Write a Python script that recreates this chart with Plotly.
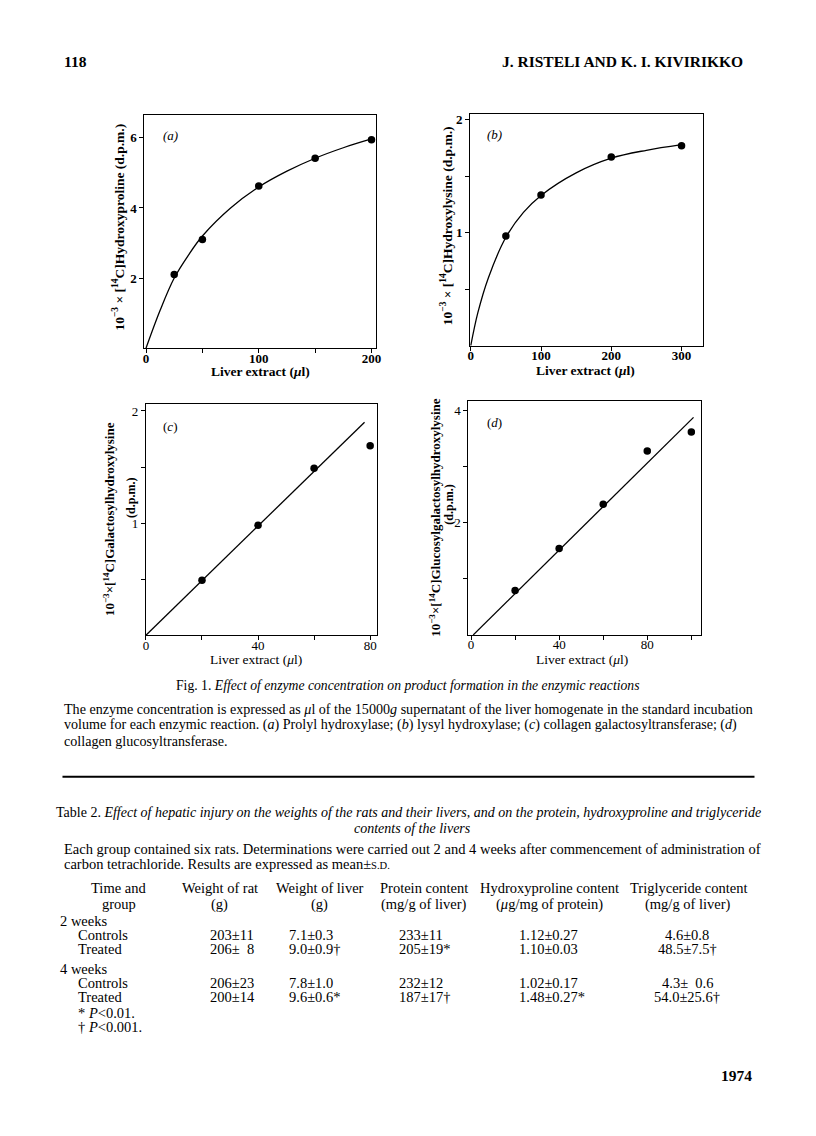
import plotly.graph_objects as go

# ---------------- data ----------------
# panel (a) prolyl hydroxylase
a_pts_x = [25, 50, 100, 150, 200]
a_pts_y = [2.10, 3.10, 4.63, 5.42, 5.95]
a_curve_x = [0, 12.5, 25, 37.5, 50, 75, 100, 125, 150, 175, 200]
a_curve_y = [0, 1.08, 2.0, 2.65, 3.2, 4.0, 4.6, 5.05, 5.42, 5.72, 5.97]
# panel (b) lysyl hydroxylase
b_pts_x = [50, 100, 200, 300]
b_pts_y = [0.97, 1.335, 1.67, 1.77]
b_curve_x = [0, 10, 25, 50, 75, 100, 150, 200, 250, 300]
b_curve_y = [0, 0.29, 0.6, 0.96, 1.18, 1.33, 1.53, 1.66, 1.73, 1.78]
# panel (c) collagen galactosyltransferase
c_pts_x = [20, 40, 60, 80]
c_pts_y = [0.49, 0.98, 1.49, 1.69]
c_line_x = [0, 78]
c_line_y = [0, 1.9]
# panel (d) collagen glucosyltransferase
d_pts_x = [20, 40, 60, 80, 100]
d_pts_y = [0.79, 1.54, 2.33, 3.28, 3.62]
d_line_x = [1, 101]
d_line_y = [0, 3.88]

# table 2
header_line1 = ["Time and", "Weight of rat", "Weight of liver", "Protein content",
                "Hydroxyproline content", "Triglyceride content"]
header_line2 = ["group", "(g)", "(g)", "(mg/g of liver)", "(<i>μ</i>g/mg of protein)",
                "(mg/g of liver)"]
time_groups = ["2 weeks", "4 weeks"]
row_labels = ["Controls", "Treated", "Controls", "Treated"]
weight_rat = ["203±11", "206±\u00a0\u00a08", "206±23", "200±14"]
weight_liver = ["7.1±0.3", "9.0±0.9†", "7.8±1.0", "9.6±0.6*"]
protein = ["233±11", "205±19*", "232±12", "187±17†"]
hydroxyproline = ["1.12±0.27", "1.10±0.03", "1.02±0.17", "1.48±0.27*"]
triglyceride = ["4.6±0.8", "48.5±7.5†", "4.3±\u00a0\u00a00.6", "54.0±25.6†"]
footnotes = ["* <i>P</i>&lt;0.01.", "† <i>P</i>&lt;0.001."]

# ---------------- layout helpers ----------------
# the page body has an 8 px margin, so the figure is 800x1120 and page coords are offset by 8
OFF = 8
W, H = 800, 1120
FONT = "Liberation Serif"


def px(x):
    return (x - OFF) / W


def py(y):
    return 1 - (y - OFF) / H


def dom_x(l, r):
    return [px(l), px(r)]


def dom_y(t, b):
    return [py(b), py(t)]


def axis(domain, rng, tickvals, ticktext, minorvals, anchor, is_x, size=13):
    d = dict(domain=domain, range=rng, tickmode="array", tickvals=tickvals,
             ticktext=ticktext, ticks="outside", ticklen=4, tickwidth=1,
             tickcolor="black", showline=True, linecolor="black", linewidth=1,
             mirror=True, showgrid=False, zeroline=False, anchor=anchor,
             tickfont=dict(family=FONT, size=size, color="black"),
             minor=dict(tickmode="array", tickvals=minorvals, ticks="outside",
                        ticklen=4, tickwidth=1, tickcolor="black", showgrid=False))
    if is_x:
        d["ticklabelstandoff"] = -6
    return d


annotations = []


def txt(x, y, text, size=13, xanchor="left", yanchor="middle", angle=0):
    annotations.append(dict(x=px(x), y=py(y), xref="paper", yref="paper", text=text,
                            showarrow=False, xanchor=xanchor, yanchor=yanchor,
                            textangle=angle,
                            font=dict(family=FONT, size=size, color="black")))


fig = go.Figure()

mk = dict(color="black", size=7.5)
ln = dict(color="black", width=1.3)

fig.add_trace(go.Scatter(x=a_curve_x, y=a_curve_y, mode="lines", line=ln, line_shape="spline",
                         xaxis="x", yaxis="y"))
fig.add_trace(go.Scatter(x=a_pts_x, y=a_pts_y, mode="markers", marker=mk, xaxis="x", yaxis="y"))
fig.add_trace(go.Scatter(x=b_curve_x, y=b_curve_y, mode="lines", line=ln, line_shape="spline",
                         xaxis="x2", yaxis="y2"))
fig.add_trace(go.Scatter(x=b_pts_x, y=b_pts_y, mode="markers", marker=mk, xaxis="x2", yaxis="y2"))
fig.add_trace(go.Scatter(x=c_line_x, y=c_line_y, mode="lines", line=ln, xaxis="x3", yaxis="y3"))
fig.add_trace(go.Scatter(x=c_pts_x, y=c_pts_y, mode="markers", marker=mk, xaxis="x3", yaxis="y3"))
fig.add_trace(go.Scatter(x=d_line_x, y=d_line_y, mode="lines", line=ln, xaxis="x4", yaxis="y4"))
fig.add_trace(go.Scatter(x=d_pts_x, y=d_pts_y, mode="markers", marker=mk, xaxis="x4", yaxis="y4"))

layout = dict(
    width=W, height=H, margin=dict(l=0, r=0, t=0, b=0),
    paper_bgcolor="white", plot_bgcolor="white", showlegend=False,
    xaxis=axis(dom_x(142.7, 376.7), [-1.5, 204], [0, 100, 200],
               ["<b>0</b>", "<b>100</b>", "<b>200</b>"], [50, 150], "y", True),
    yaxis=axis(dom_y(113, 346.7), [0, 6.66], [2, 4, 6],
               ["<b>2</b>", "<b>4</b>", "<b>6</b>"], [], "x", False),
    xaxis2=axis(dom_x(471.7, 707.3), [-1, 331], [0, 100, 200, 300],
                ["<b>0</b>", "<b>100</b>", "<b>200</b>", "<b>300</b>"], [], "y2", True),
    yaxis2=axis(dom_y(112.3, 344.3), [0, 2.05], [1, 2],
                ["<b>1</b>", "<b>2</b>"], [0.5, 1.5], "x2", False),
    xaxis3=axis(dom_x(144.3, 377.3), [0, 82.3], [0, 40, 80],
                ["0", "40", "80"], [20, 60], "y3", True),
    yaxis3=axis(dom_y(402.3, 634.3), [0, 2.066], [1, 2], ["1", "2"], [0.5, 1.5], "x3", False),
    xaxis4=axis(dom_x(470, 705), [-1.2, 104.4], [0, 40, 80],
                ["0", "40", "80"], [20, 60, 100], "y4", True),
    yaxis4=axis(dom_y(400, 634), [0, 4.167], [2, 4], ["2", "4"], [1, 3], "x4", False),
)

# page header
txt(60, 60, "<b>118</b>", size=15.5)
txt(749, 60, "<b>J. RISTELI AND K. I. KIVIRIKKO</b>", size=15.5, xanchor="right")

# panel labels
txt(160, 134, "<i>(a)</i>", size=13)
txt(487, 133, "<i>(b)</i>", size=13)
txt(160, 425, "(<i>c</i>)", size=13)
txt(487, 421, "(<i>d</i>)", size=13)

# axis titles
xt = "Liver extract (<i>μ</i>l)"
txt(260.5, 370, "<b>" + xt + "</b>", size=13.5, xanchor="center")
txt(588, 369, "<b>" + xt + "</b>", size=13.5, xanchor="center")
txt(255, 658.5, xt, size=13.5, xanchor="center")
txt(585, 658.5, xt, size=13.5, xanchor="center")
txt(117, 225, "<b>10<sup>−3</sup> × [<sup>14</sup>C]Hydroxyproline (d.p.m.)</b>", size=13.5,
    xanchor="center", angle=-90)
txt(448, 224, "<b>10<sup>−3</sup> × [<sup>14</sup>C]Hydroxylysine (d.p.m.)</b>", size=13.5,
    xanchor="center", angle=-90)
txt(107, 518, "<b>10<sup>−3</sup>×[<sup>14</sup>C]Galactosylhydroxylysine</b>", size=13,
    xanchor="center", angle=-90)
txt(129, 497, "<b>(d.p.m.)</b>", size=12, xanchor="center", angle=-90)
txt(436, 516, "<b>10<sup>−3</sup>×[<sup>14</sup>C]Glucosylgalactosylhydroxylysine</b>", size=13,
    xanchor="center", angle=-90)
txt(451, 504, "<b>(d.p.m.)</b>", size=12, xanchor="center", angle=-90)

# figure caption
txt(409.5, 685, "Fig. 1. <i>Effect of enzyme concentration on product formation in the enzymic reactions</i>",
    size=13.7, xanchor="center")
txt(60, 708, "The enzyme concentration is expressed as <i>μ</i>l of the 15000<i>g</i> supernatant of the "
    "liver homogenate in the standard incubation", size=14.1)
txt(60, 724, "volume for each enzymic reaction. (<i>a</i>) Prolyl hydroxylase; (<i>b</i>) lysyl "
    "hydroxylase; (<i>c</i>) collagen galactosyltransferase; (<i>d</i>)", size=14.1)
txt(60, 740, "collagen glucosyltransferase.", size=14.1)

# table title & legend
txt(410, 812, "Table 2. <i>Effect of hepatic injury on the weights of the rats and their livers, "
    "and on the protein, hydroxyproline and triglyceride</i>", size=14, xanchor="center")
txt(414, 828, "<i>contents of the livers</i>", size=14, xanchor="center")
txt(60, 848, "Each group contained six rats. Determinations were carried out 2 and 4 weeks after "
    "commencement of administration of", size=14.5)
txt(60, 864, "carbon tetrachloride. Results are expressed as mean±<span style='font-size:10.5px'>S.D.</span>",
    size=14.5)

# table header
header_x = [117, 219, 320, 425, 552, 692]
for hx, h1, h2 in zip(header_x, header_line1, header_line2):
    txt(hx, 888, h1, size=14.5, xanchor="center")
    txt(hx, 904, h2, size=14.5, xanchor="center")

group_y = [921, 969]
row_y = [935, 949, 983, 997]
for gy, g in zip(group_y, time_groups):
    txt(55, gy, g, size=14.5)
for ry, lab in zip(row_y, row_labels):
    txt(74, ry, lab, size=14.5)

cols = [(207, "left", weight_rat), (287, "left", weight_liver), (398, "left", protein),
        (519, "left", hydroxyproline), (691, "center", triglyceride)]
for cx, anc, vals in cols:
    for ry, v in zip(row_y, vals):
        txt(cx, ry, v, size=14.5, xanchor=anc)

for fy, f in zip([1013, 1027], footnotes):
    txt(74, fy, f, size=14.5)

txt(759, 1075, "<b>1974</b>", size=15.5, xanchor="right")

layout["annotations"] = annotations
layout["shapes"] = [dict(type="line", xref="paper", yref="paper", x0=px(60), x1=px(759),
                         y0=py(776), y1=py(776), line=dict(color="black", width=2))]
fig.update_layout(**layout)
fig.write_html("out.html")
